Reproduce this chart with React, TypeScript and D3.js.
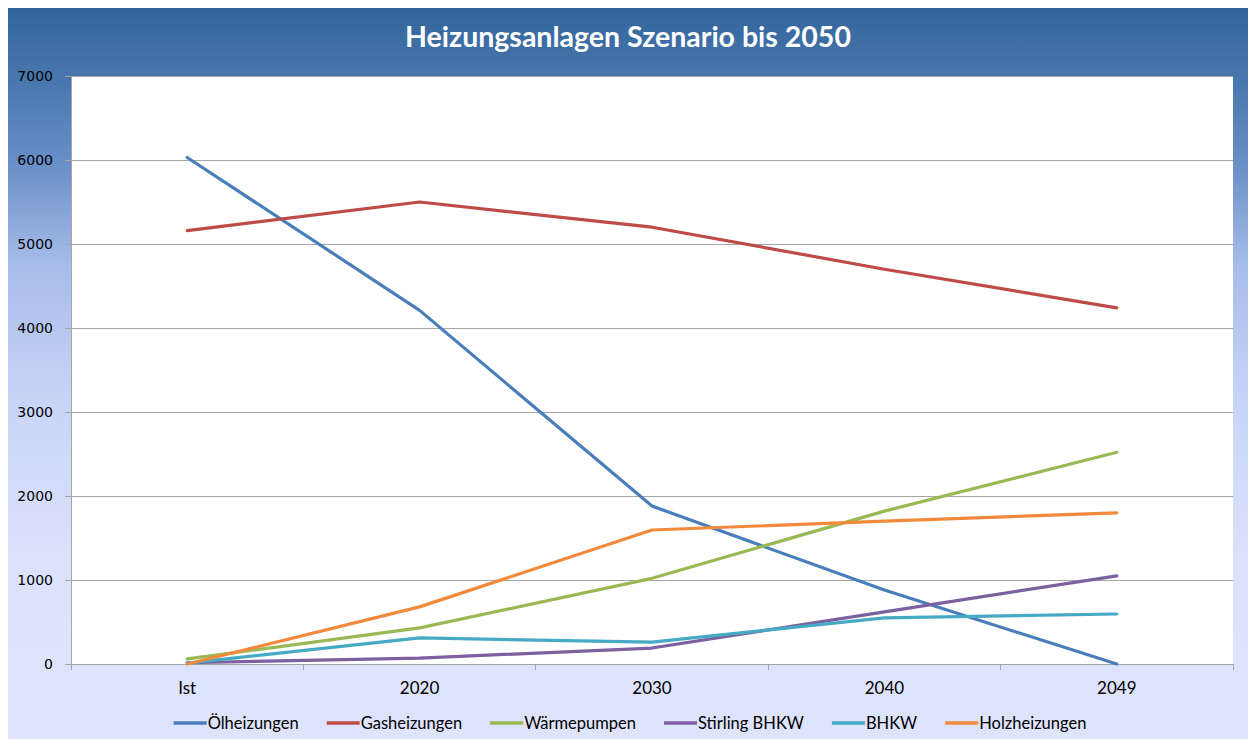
import { useEffect, useRef } from 'react';
import * as d3 from 'd3';

const categories = ['Ist', '2020', '2030', '2040', '2049'];
const yTicks = [0, 1000, 2000, 3000, 4000, 5000, 6000, 7000];

const oelheizungen = [6030, 4210, 1880, 880, 0];
const gasheizungen = [5160, 5500, 5200, 4700, 4240];
const waermepumpen = [60, 430, 1020, 1820, 2520];
const stirlingBhkw = [15, 70, 190, 620, 1050];
const bhkw = [10, 310, 260, 550, 595];
const holzheizungen = [0, 680, 1595, 1700, 1800];

const seriesNames = ['Ölheizungen', 'Gasheizungen', 'Wärmepumpen', 'Stirling BHKW', 'BHKW', 'Holzheizungen'];
const seriesValues = [oelheizungen, gasheizungen, waermepumpen, stirlingBhkw, bhkw, holzheizungen];
const seriesColors = ['#4A7EBB', '#BE4B48', '#98B954', '#7D60A0', '#46AAC5', '#F28A3B'];

const W = 1256;
const H = 747;

const App = () => {
  const svgRef = useRef<SVGSVGElement>(null);

  useEffect(() => {
    const margin = { top: 76, right: 23, bottom: 83, left: 71 };
    const width = W - margin.left - margin.right;
    const height = H - margin.top - margin.bottom;

    const root = d3.select(svgRef.current);
    root.selectAll('*').remove();

    // background gradient
    const defs = root.append('defs');
    const grad = defs.append('linearGradient')
      .attr('id', 'bg')
      .attr('x1', 0).attr('y1', 0).attr('x2', 0).attr('y2', 1);
    [
      [0, '#30639a'],
      [0.11, '#4a78ae'],
      [0.22, '#6a90c8'],
      [0.35, '#a6bce8'],
      [0.54, '#c9d5f8'],
      [0.75, '#dce2fc'],
      [1, '#dfe4fd'],
    ].forEach(([o, c]) => grad.append('stop').attr('offset', o as number).attr('stop-color', c as string));

    root.append('rect')
      .attr('x', 7).attr('y', 2)
      .attr('width', 1243).attr('height', H)
      .attr('fill', 'url(#bg)')
      .attr('stroke', '#8c8c8c')
      .attr('stroke-width', 1.5);

    root.append('text')
      .attr('x', 628)
      .attr('y', 47)
      .attr('text-anchor', 'middle')
      .style('font-family', 'Lato, sans-serif')
      .style('font-weight', 'bold')
      .style('font-size', '28.5px')
      .attr('fill', '#ffffff')
      .text('Heizungsanlagen Szenario bis 2050');

    const svg = root.append('g')
      .attr('transform', `translate(${margin.left}, ${margin.top})`);

    svg.append('rect')
      .attr('width', width)
      .attr('height', height)
      .attr('fill', '#ffffff');

    const x = d3.scaleBand()
      .domain(categories)
      .range([0, width]);

    const y = d3.scaleLinear()
      .domain([0, 7000])
      .range([height, 0]);

    // grid
    svg.selectAll('.grid-line')
      .data(yTicks)
      .enter()
      .append('line')
      .attr('x1', 0)
      .attr('x2', width)
      .attr('y1', d => y(d))
      .attr('y2', d => y(d))
      .style('stroke', '#a6a6a6')
      .style('stroke-width', 1)
      .style('shape-rendering', 'crispEdges');

    // y axis
    const yAxis = svg.append('g')
      .call(d3.axisLeft(y).tickValues(yTicks).tickSize(6).tickPadding(12).tickFormat(d3.format('d')));
    yAxis.select('.domain').attr('stroke', '#a6a6a6').style('shape-rendering', 'crispEdges');
    yAxis.selectAll('.tick line').attr('stroke', '#a6a6a6').style('shape-rendering', 'crispEdges');
    yAxis.selectAll('.tick text')
      .style('font-family', '"DejaVu Sans", sans-serif')
      .style('font-size', '14px')
      .attr('fill', '#000000');

    // x axis: ticks at category boundaries
    const boundaries = categories.map(c => x(c) as number).concat([width]);
    svg.append('line')
      .attr('x1', 0).attr('x2', width)
      .attr('y1', height).attr('y2', height)
      .style('stroke', '#a6a6a6')
      .style('shape-rendering', 'crispEdges');
    svg.selectAll('.xtick')
      .data(boundaries)
      .enter()
      .append('line')
      .attr('x1', d => d).attr('x2', d => d)
      .attr('y1', height).attr('y2', height + 6)
      .style('stroke', '#a6a6a6')
      .style('shape-rendering', 'crispEdges');
    svg.selectAll('.xlabel')
      .data(categories)
      .enter()
      .append('text')
      .attr('x', d => (x(d) as number) + x.bandwidth() / 2)
      .attr('y', height + 30)
      .attr('text-anchor', 'middle')
      .style('font-family', 'Lato, sans-serif')
      .style('font-size', '17px')
      .attr('fill', '#000000')
      .text(d => d);

    const line = d3.line<number>()
      .x((_, i) => (x(categories[i]) as number) + x.bandwidth() / 2)
      .y(d => y(d));

    svg.selectAll('.line')
      .data(seriesValues)
      .enter().append('path')
      .attr('fill', 'none')
      .attr('stroke', (_, i) => seriesColors[i])
      .attr('stroke-width', 3.2)
      .attr('stroke-linejoin', 'round')
      .attr('stroke-linecap', 'round')
      .attr('d', d => line(d));

    // legend
    const legend = root.append('g');
    let cx = 0;
    seriesNames.forEach((name, i) => {
      const item = legend.append('g').attr('transform', `translate(${cx},0)`);
      item.append('line')
        .attr('x1', 0).attr('x2', 33)
        .attr('y1', 0).attr('y2', 0)
        .attr('stroke', seriesColors[i])
        .attr('stroke-width', 3.5);
      const t = item.append('text')
        .attr('x', 34)
        .attr('y', 6)
        .style('font-family', 'Lato, sans-serif')
        .style('font-size', '16.5px')
        .attr('fill', '#000000')
        .text(name);
      const tw = (t.node() as SVGTextElement).getComputedTextLength();
      cx += 34 + tw + 28;
    });
    const total = cx - 28;
    legend.attr('transform', `translate(${630 - total / 2}, 723)`);
  }, []);

  return (
    <svg ref={svgRef} width={W} height={H} style={{ display: 'block', margin: '-8px' }}></svg>
  );
};

export default App;
